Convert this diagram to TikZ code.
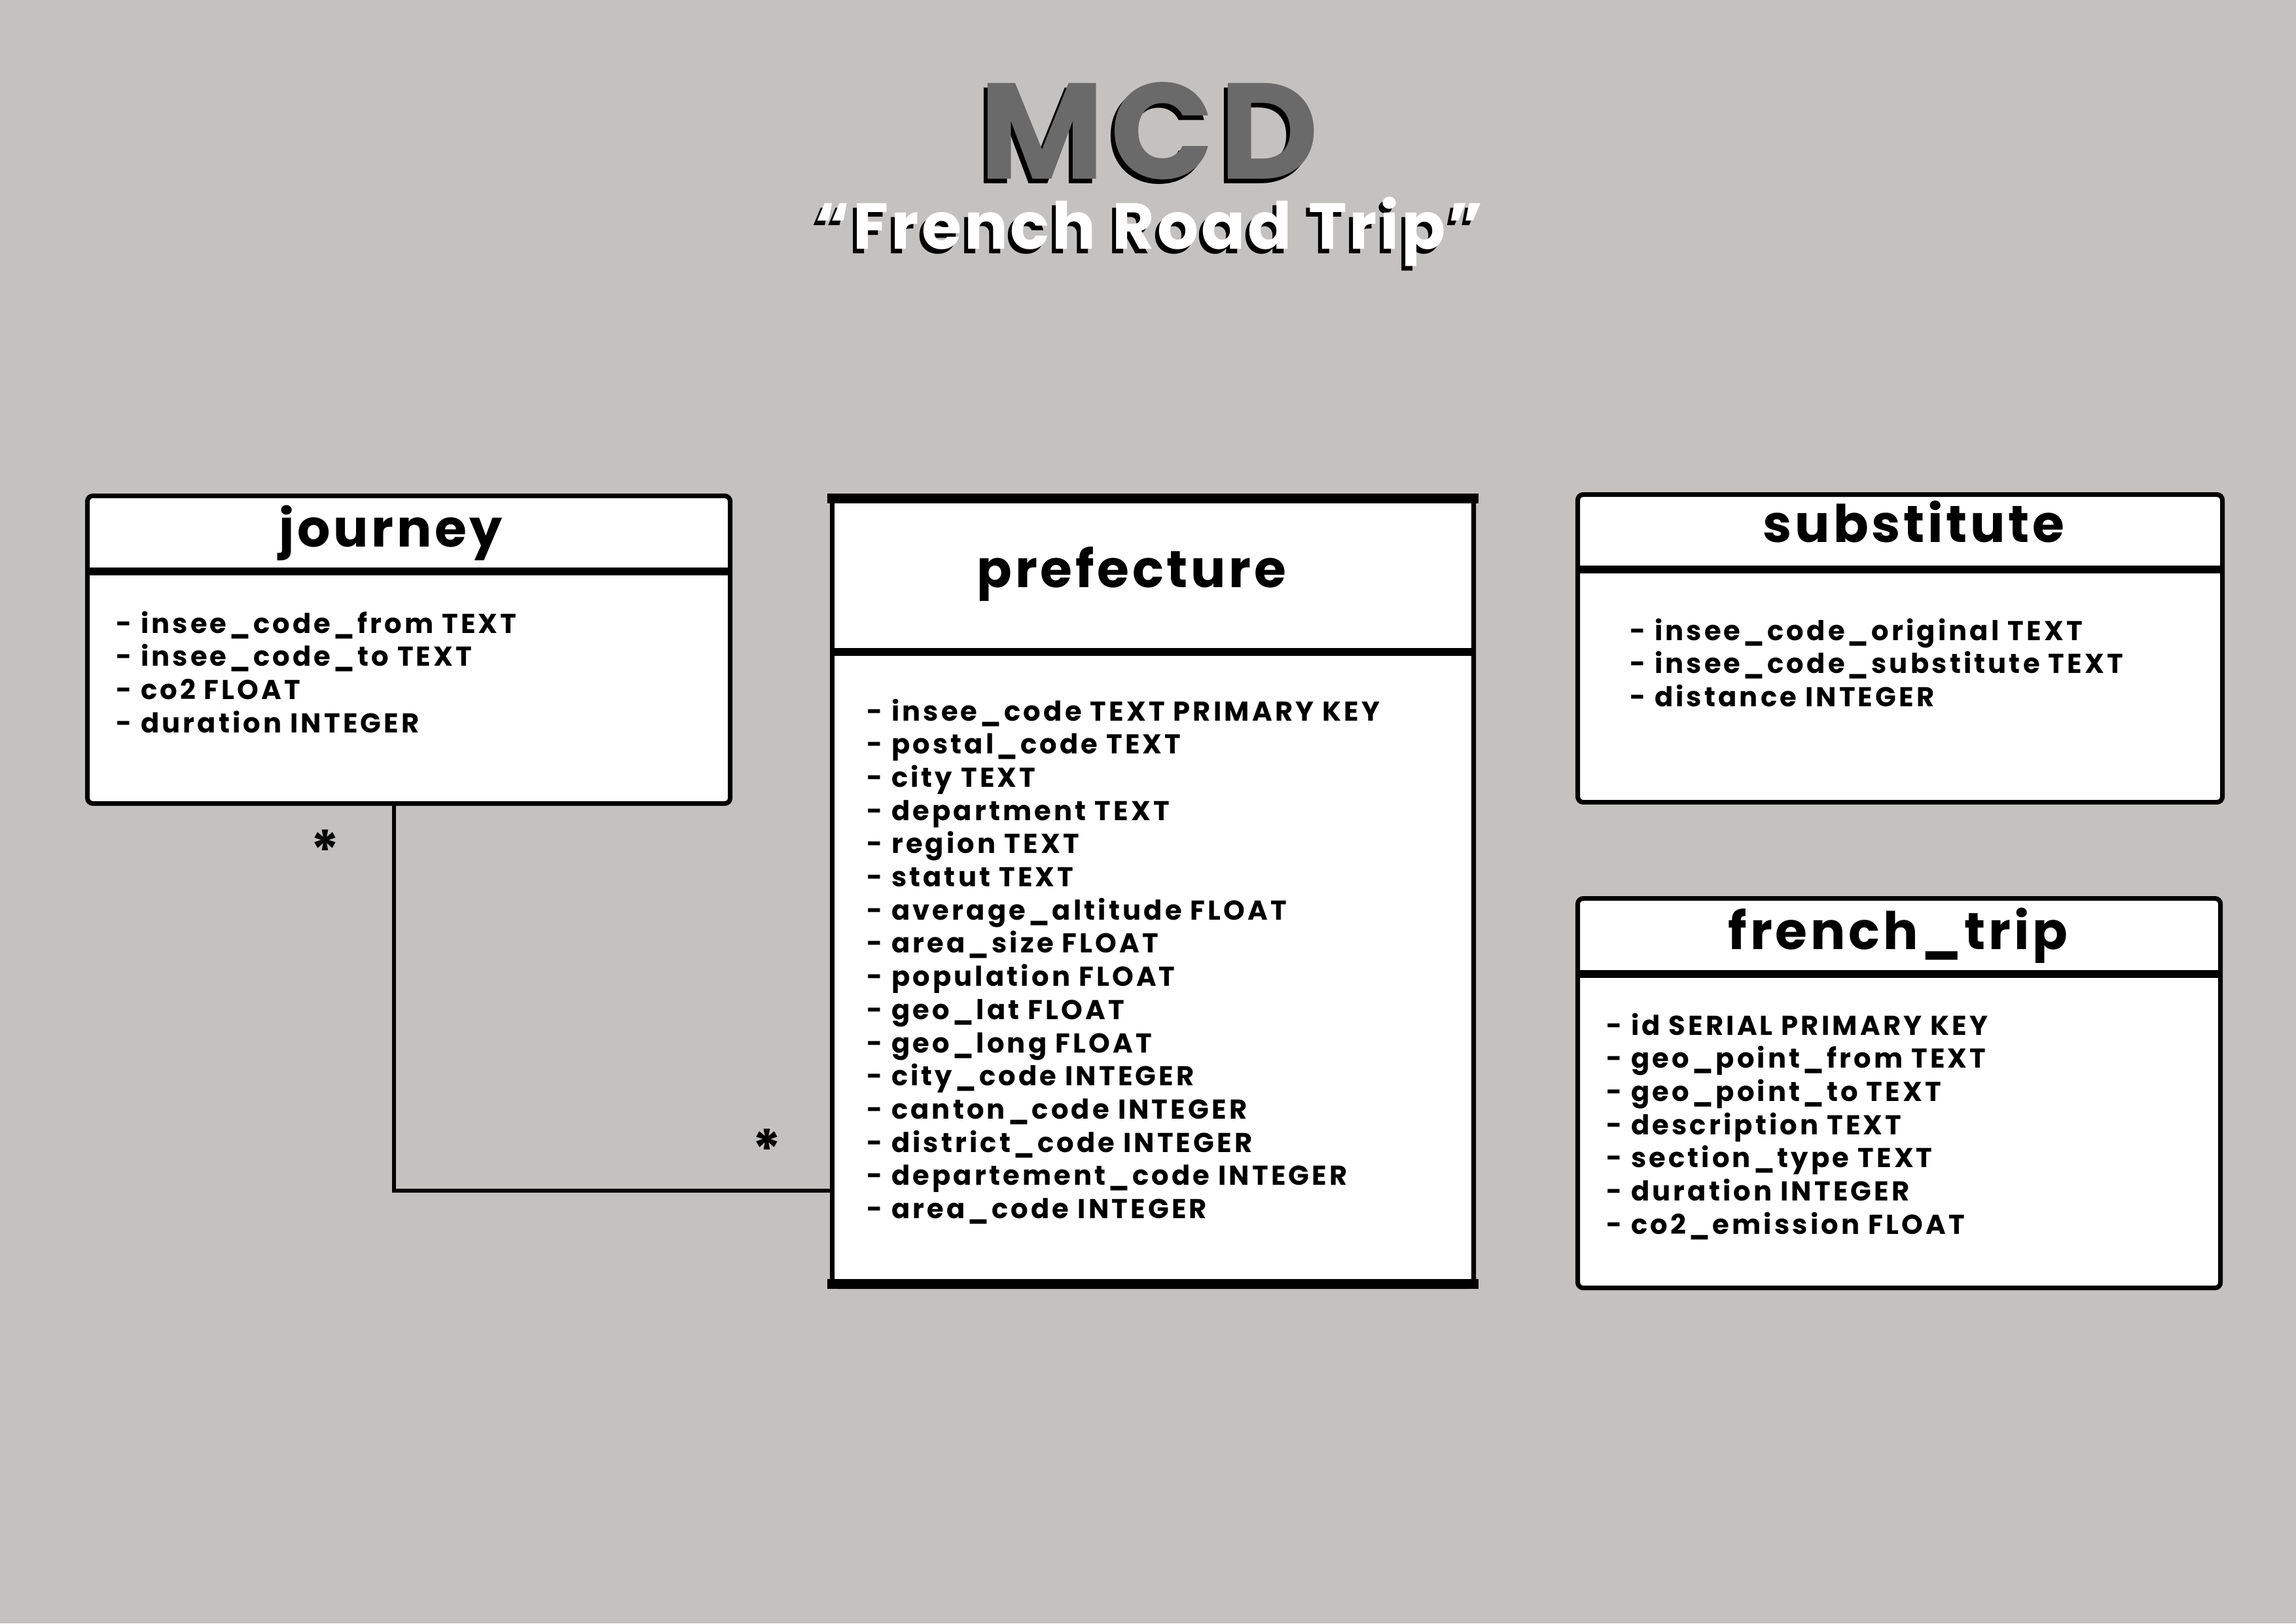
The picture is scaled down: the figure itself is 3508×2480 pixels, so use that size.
\documentclass[tikz,border=0pt]{standalone}
\usepackage{fontspec}
\setmainfont{Poppins}[LetterSpace=4]
\newfontfamily\headfont{Poppins}[LetterSpace=6]
\newfontfamily\fieldfont{Poppins}[LetterSpace=10]
\usepackage{xcolor}

\definecolor{pagegray}{HTML}{C3C2C0}
\definecolor{titlegray}{HTML}{6A6A6A}

\tikzset{
  tablebox/.style={draw=black, fill=white, line width=1.7pt, rounded corners=2pt,
    anchor=north west, inner sep=0pt},
  sepline/.style={line width=3pt},
  tabletitle/.style={anchor=base, inner sep=0pt, font=\headfont\fontsize{19}{22}\selectfont\bfseries},
  field/.style={anchor=base west, inner sep=0pt, font=\fieldfont\fontsize{10}{12}\selectfont\bfseries},
  bigtitle/.style={anchor=base, inner sep=0pt, font=\fontsize{50}{50}\selectfont\bfseries},
  subtitle/.style={anchor=base, inner sep=0pt, font=\fontsize{23.8}{25}\selectfont\bfseries},
  link/.style={line width=1.3pt},
  card/.style={inner sep=0pt, font=\fontsize{20}{20}\selectfont\bfseries}
}

\begin{document}
\begin{tikzpicture}[x=0.24pt,y=-0.24pt]
\fill[pagegray] (0,0) rectangle (3508,2480);

% title
\node[bigtitle, text=black] (mcdshade) at (1750,280) {MCD};
\node[bigtitle, text=titlegray] (mcd) at (1756,273) {MCD};
\node[subtitle, text=black] (tripshade) at (1750,387) {“French Road Trip”};
\node[subtitle, text=white] (trip) at (1756,380) {“French Road Trip”};

% tables
\node[tablebox, minimum width=235.7pt, minimum height=112.8pt] (journey) at (130,754) {};
\node[tablebox, minimum width=235.2pt, minimum height=289.9pt] (prefecture) at (1268,754) {};
\node[tablebox, minimum width=236.4pt, minimum height=112.8pt] (substitute) at (2407,752) {};
\node[tablebox, minimum width=235.7pt, minimum height=142.8pt] (frenchtrip) at (2407,1369) {};

\fill ([xshift=-0.85pt]prefecture.north west) rectangle ([xshift=0.85pt,yshift=-3.6pt]prefecture.north east);
\fill ([xshift=-0.85pt]prefecture.south west) rectangle ([xshift=0.85pt,yshift=3.6pt]prefecture.south east);

\draw[sepline] ([yshift=-28.6pt]journey.north west) -- ([yshift=-28.6pt]journey.north east);
\draw[sepline] ([yshift=-58.1pt]prefecture.north west) -- ([yshift=-58.1pt]prefecture.north east);
\draw[sepline] ([yshift=-28.3pt]substitute.north west) -- ([yshift=-28.3pt]substitute.north east);
\draw[sepline] ([yshift=-28.6pt]frenchtrip.north west) -- ([yshift=-28.6pt]frenchtrip.north east);

\node[tabletitle] (journey-title) at (597,835) {journey};
\node[tabletitle] (prefecture-title) at (1729,897) {prefecture};
\node[tabletitle] (substitute-title) at (2924,828) {substitute};
\node[tabletitle] (frenchtrip-title) at (2900,1450) {french\_trip};

% fields
\foreach \f [count=\i from 0] in {insee\_code\_from TEXT, insee\_code\_to TEXT,
    co2 FLOAT, duration INTEGER}
  \node[field] (journey-f\i) at (177,{967+50.7*\i}) {- \f};

\foreach \f [count=\i from 0] in {insee\_code TEXT PRIMARY KEY, postal\_code TEXT,
    city TEXT, department TEXT, region TEXT, statut TEXT, average\_altitude FLOAT,
    area\_size FLOAT, population FLOAT, geo\_lat FLOAT, geo\_long FLOAT,
    city\_code INTEGER, canton\_code INTEGER, district\_code INTEGER,
    departement\_code INTEGER, area\_code INTEGER}
  \node[field] (prefecture-f\i) at (1324,{1101+50.7*\i}) {- \f};

\foreach \f [count=\i from 0] in {insee\_code\_original TEXT,
    insee\_code\_substitute TEXT, distance INTEGER}
  \node[field] (substitute-f\i) at (2490,{978+50.7*\i}) {- \f};

\foreach \f [count=\i from 0] in {id SERIAL PRIMARY KEY, geo\_point\_from TEXT,
    geo\_point\_to TEXT, description TEXT, section\_type TEXT, duration INTEGER,
    co2\_emission FLOAT}
  \node[field] (frenchtrip-f\i) at (2454,{1581+50.7*\i}) {- \f};

% journey -- prefecture
\coordinate (bend) at (602,1819);
\draw[link] (journey.south -| bend) -- (bend) -- (bend -| prefecture.west);
\node[card] (star-j) at (497,1299) {*};
\node[card] (star-p) at (1172,1756) {*};
\end{tikzpicture}
\end{document}
